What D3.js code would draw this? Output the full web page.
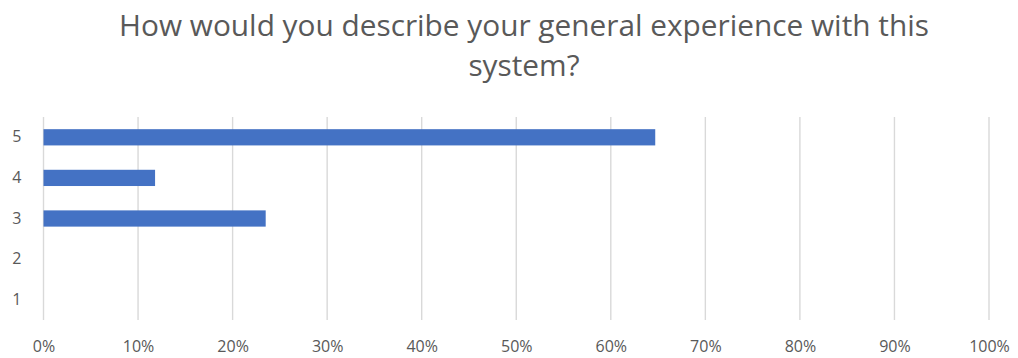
<!DOCTYPE html>
<html>
<head>
<meta charset="utf-8">
<script src="https://cdn.jsdelivr.net/npm/d3@7"></script>
<style>
  body { margin: 0; background: #fff; }
  text { font-family: "Open Sans", "Liberation Sans", sans-serif; fill: #595959; }
</style>
</head>
<body>
<div id="chart"></div>
<script>
// data
const categories = ["5", "4", "3", "2", "1"];
const percents = [64.7, 11.8, 23.5, 0, 0];
const xTicks = [0, 10, 20, 30, 40, 50, 60, 70, 80, 90, 100];
const titleLines = ["How would you describe your general experience with this", "system?"];

const W = 1018, H = 358;
const margin = {top: 117, right: 29, bottom: 38, left: 43.5};
const width = W - margin.left - margin.right,
      height = H - margin.top - margin.bottom;

const svg = d3.select("#chart")
  .append("svg")
    .attr("width", W)
    .attr("height", H);

// title
const title = svg.append("g");
titleLines.forEach((t, i) => {
  title.append("text")
    .attr("x", 524)
    .attr("y", 36 + i * 40)
    .attr("text-anchor", "middle")
    .style("font-size", "24px")
    .text(t);
});
// squeeze the first line to the width of the reference
const first = title.select("text").node();
const fs = 24 * 810 / first.getComputedTextLength();
title.selectAll("text").style("font-size", fs + "px");

const g = svg.append("g")
  .attr("transform", `translate(${margin.left},${margin.top})`);

const x = d3.scaleLinear()
  .domain([0, 100])
  .range([0, width]);

const y = d3.scaleBand()
  .domain(categories)
  .range([0, height])
  .paddingInner(0.6)
  .paddingOuter(0.3);

// gridlines
g.selectAll("line.grid")
  .data(xTicks)
  .join("line")
    .attr("class", "grid")
    .attr("x1", d => x(d))
    .attr("x2", d => x(d))
    .attr("y1", 0)
    .attr("y2", height)
    .attr("stroke", "#d9d9d9")
    .attr("stroke-width", 1.4);

// X axis labels
const xAxis = g.append("g")
  .attr("transform", `translate(0, ${height})`)
  .call(d3.axisBottom(x).tickValues(xTicks).tickFormat(d => d + "%").tickSize(0).tickPadding(21));
xAxis.select(".domain").remove();
xAxis.selectAll("text").style("font-size", "16px").attr("fill", "#595959");

// Y axis labels
const yAxis = g.append("g")
  .call(d3.axisLeft(y).tickSize(0).tickPadding(22));
yAxis.select(".domain").remove();
yAxis.selectAll("text").style("font-size", "16px").attr("fill", "#595959");

// bars
g.selectAll("rect.bar")
  .data(percents.map((v, i) => ({cat: categories[i], v})))
  .join("rect")
    .attr("class", "bar")
    .attr("x", 0)
    .attr("y", d => y(d.cat))
    .attr("width", d => x(d.v))
    .attr("height", y.bandwidth())
    .attr("fill", "#4472c4");
</script>
</body>
</html>
